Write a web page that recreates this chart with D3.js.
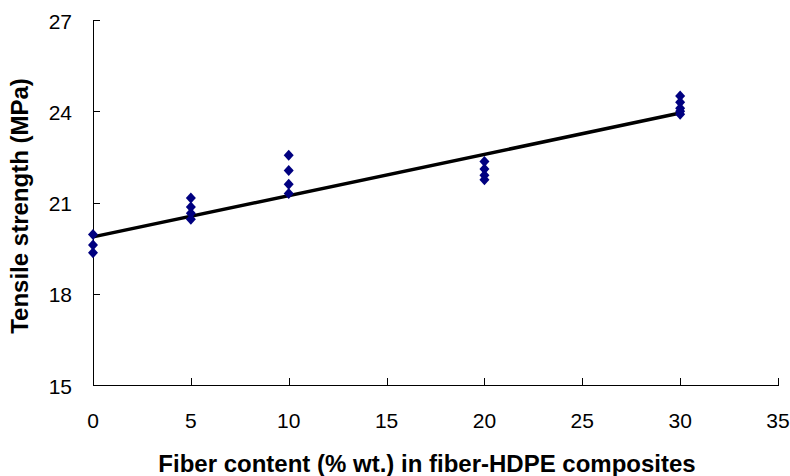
<!DOCTYPE html>
<html lang="en">
<head>
<meta charset="utf-8">
<title>tensile strength</title>
<script src="https://cdn.jsdelivr.net/npm/d3@7"></script>
<style>
  body { margin: 0; background: #fff; }
  svg text { font-family: "Liberation Sans", Arial, sans-serif; fill: #000; }
  .axis path, .axis line { stroke: #000; stroke-width: 1; shape-rendering: crispEdges; }
</style>
</head>
<body>
<svg width="790" height="476"></svg>
<script>
// fiber content (% wt.) and measured tensile strength (MPa)
var fiberX = [0, 0, 0,
              5, 5, 5, 5,
              10, 10, 10, 10,
              20, 20, 20, 20,
              30, 30, 30, 30, 30];
var strengthY = [19.95, 19.6, 19.35,
                 21.15, 20.85, 20.65, 20.45,
                 22.55, 22.05, 21.6, 21.3,
                 22.35, 22.1, 21.9, 21.75,
                 24.5, 24.3, 24.1, 24.0, 23.9];
// linear trend line end points
var trendX = [0, 30];
var trendY = [19.87, 23.94];

var xTicks = [0, 5, 10, 15, 20, 25, 30, 35];
var yTicks = [15, 18, 21, 24, 27];

var svg = d3.select("svg");
var plotLeft = 93, plotRight = 778, plotTop = 20, plotBottom = 385;

var x = d3.scaleLinear().domain([0, 35]).range([plotLeft, plotRight]);
var y = d3.scaleLinear().domain([15, 27]).range([plotBottom, plotTop]);

// axes with ticks pointing inward
svg.append("g")
    .attr("class", "axis")
    .attr("transform", "translate(0," + plotBottom + ")")
    .call(d3.axisTop(x).tickValues(xTicks).tickSize(7).tickSizeOuter(0).tickFormat(""));
svg.append("g")
    .attr("class", "axis")
    .attr("transform", "translate(" + plotLeft + ",0)")
    .call(d3.axisRight(y).tickValues(yTicks).tickSize(7).tickSizeOuter(0).tickFormat(""));

svg.append("g").selectAll("text")
    .data(xTicks).enter().append("text")
    .attr("x", function(d) { return x(d); })
    .attr("y", 428)
    .attr("text-anchor", "middle")
    .attr("font-size", 21)
    .text(function(d) { return d; });

svg.append("g").selectAll("text")
    .data(yTicks).enter().append("text")
    .attr("x", plotLeft - 21)
    .attr("y", function(d) { return y(d) + 8.5; })
    .attr("text-anchor", "end")
    .attr("font-size", 21)
    .text(function(d) { return d; });

// trend line
var line = d3.line()
    .x(function(d, i) { return x(trendX[i]); })
    .y(function(d) { return y(d); });
svg.append("path")
    .datum(trendY)
    .attr("d", line)
    .attr("fill", "none")
    .attr("stroke", "#000")
    .attr("stroke-width", 3.5);

// diamond markers
var r = 5.5;
svg.append("g").selectAll("path")
    .data(strengthY).enter().append("path")
    .attr("transform", function(d, i) { return "translate(" + x(fiberX[i]) + "," + y(d) + ")"; })
    .attr("d", "M0," + (-r) + "L" + (r - 0.5) + ",0L0," + r + "L" + (-(r - 0.5)) + ",0Z")
    .attr("fill", "#000080");

// axis titles
svg.append("text")
    .attr("x", 427)
    .attr("y", 472)
    .attr("text-anchor", "middle")
    .attr("font-size", 24)
    .attr("font-weight", "bold")
    .text("Fiber content (% wt.) in fiber-HDPE composites");

svg.append("text")
    .attr("transform", "translate(28,206) rotate(-90)")
    .attr("text-anchor", "middle")
    .attr("font-size", 24)
    .attr("font-weight", "bold")
    .text("Tensile strength (MPa)");
</script>
</body>
</html>
